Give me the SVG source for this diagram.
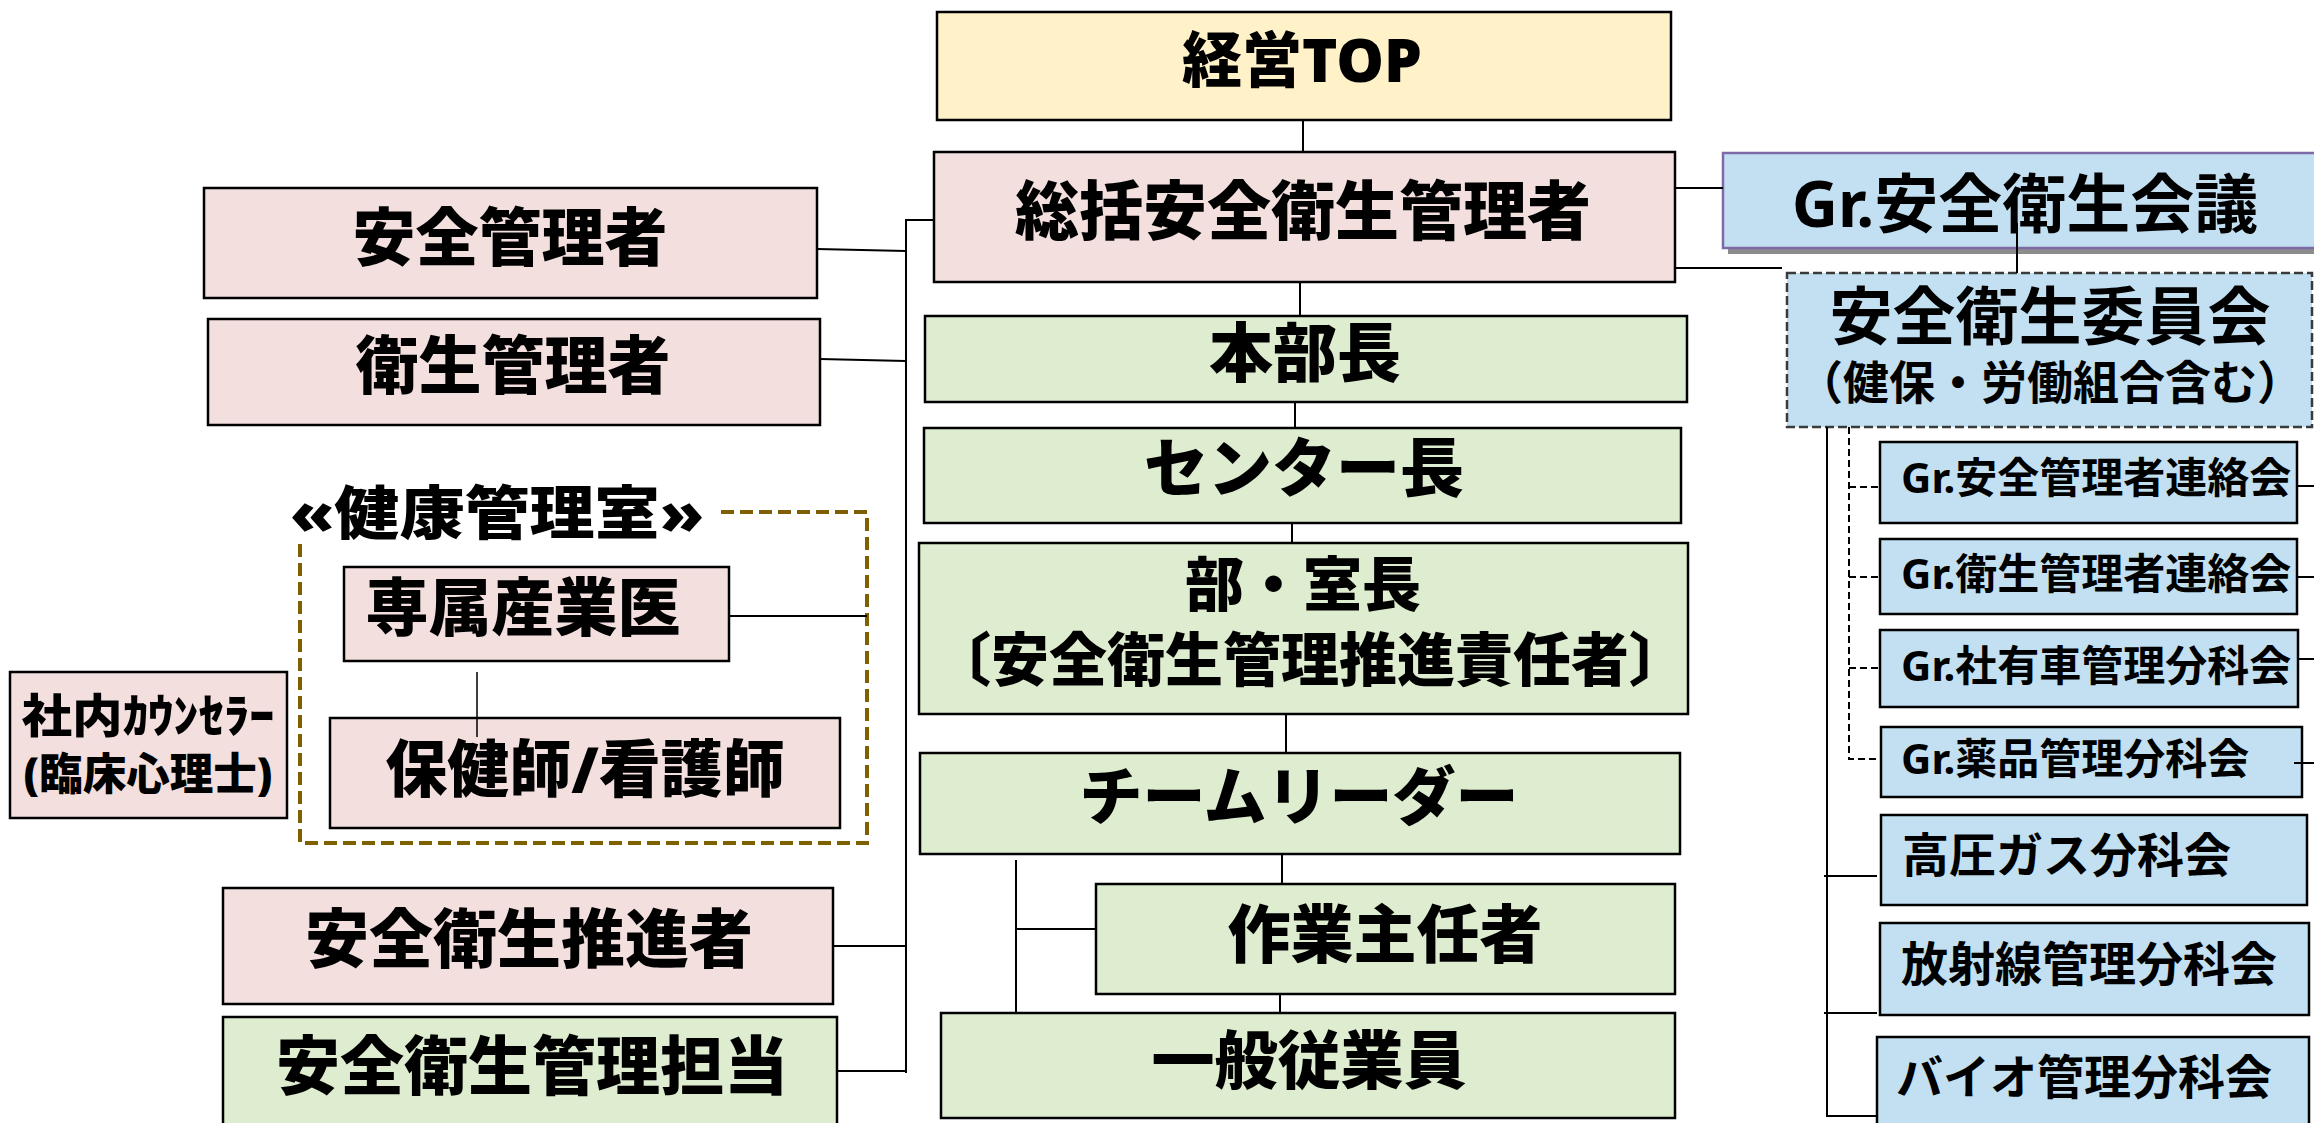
<svg xmlns="http://www.w3.org/2000/svg" width="2314" height="1123" viewBox="0 0 2314 1123">
<style>
.t{font-family:"Noto Sans","Noto Sans CJK JP",sans-serif;font-weight:700;fill:#000;dominant-baseline:central}
.h{font-weight:900}
.c{text-anchor:middle}
.s{text-anchor:start}
.pink{fill:#F2DFDE;stroke:#000;stroke-width:2.5}
.green{fill:#DEEDD0;stroke:#000;stroke-width:2.5}
.yellow{fill:#FFF2C9;stroke:#000;stroke-width:2.5}
.blue{fill:#C2E0F2;stroke:#000;stroke-width:2.5}
.ln{stroke:#000;stroke-width:2;fill:none}
.thin{stroke:#000;stroke-width:1.5;fill:none}
.dl{stroke:#000;stroke-width:2;fill:none;stroke-dasharray:7,4}
</style>
<rect width="2314" height="1123" fill="#fff"/>
<g id="nodes">
<g id="n-top"><rect class="yellow" x="937" y="12" width="734" height="108"/><text class="t h c" x="1302" y="59" font-size="60">経営TOP</text></g>
<g id="n-sokatsu"><rect class="pink" x="934" y="152" width="741" height="130"/><text class="t h c" x="1303" y="209" font-size="64">総括安全衛生管理者</text></g>
<g id="n-honbu"><rect class="green" x="925" y="316" width="762" height="86"/><text class="t h c" x="1305" y="351" font-size="64">本部長</text></g>
<g id="n-center"><rect class="green" x="924" y="428" width="757" height="95"/><text class="t h c" x="1304" y="466" font-size="64">センター長</text></g>
<g id="n-bu"><rect class="green" x="919" y="543" width="769" height="171"/><text class="t h c" x="1303" y="583" font-size="59">部・室長</text><text class="t h c" x="1310" y="658" font-size="58">〔安全衛生管理推進責任者〕</text></g>
<g id="n-team"><rect class="green" x="920" y="753" width="760" height="101"/><text class="t h c" x="1299" y="794" font-size="63">チームリーダー</text></g>
<g id="n-sagyo"><rect class="green" x="1096" y="884" width="579" height="110"/><text class="t h c" x="1385" y="932" font-size="63">作業主任者</text></g>
<g id="n-ippan"><rect class="green" x="941" y="1013" width="734" height="105"/><text class="t h c" x="1309" y="1058" font-size="63">一般従業員</text></g>
<g id="n-anzenkanri"><rect class="pink" x="204" y="188" width="613" height="110"/><text class="t h c" x="510" y="235" font-size="63">安全管理者</text></g>
<g id="n-eiseikanri"><rect class="pink" x="208" y="319" width="612" height="106"/><text class="t h c" x="513" y="363" font-size="63">衛生管理者</text></g>
<g id="n-kenko"><path d="M721,512 H867 V843 H300 V540" fill="none" stroke="#7F6000" stroke-width="4" stroke-dasharray="13,6"/><text class="t h c" x="497" y="511" font-size="58" textLength="414" lengthAdjust="spacingAndGlyphs">«健康管理室»</text></g>
<g id="n-senzoku"><rect class="pink" x="344" y="567" width="385" height="94"/><text class="t h c" x="523" y="605" font-size="63">専属産業医</text></g>
<g id="n-hokenshi"><rect class="pink" x="330" y="718" width="510" height="110"/><text class="t h c" x="585" y="768" font-size="62">保健師/看護師</text></g>
<g id="n-counselor"><rect class="pink" x="10" y="672" width="277" height="146"/><text class="t h c" x="148" y="714" font-size="46" textLength="253" lengthAdjust="spacingAndGlyphs">社内ｶｳﾝｾﾗｰ</text><text class="t h c" x="148" y="773" font-size="44" textLength="249" lengthAdjust="spacingAndGlyphs">(臨床心理士)</text></g>
<g id="n-suishin"><rect class="pink" x="223" y="888" width="610" height="116"/><text class="t h c" x="529" y="937" font-size="64">安全衛生推進者</text></g>
<g id="n-tanto"><rect class="green" x="223" y="1017" width="614" height="120"/><text class="t h c" x="532" y="1064" font-size="64">安全衛生管理担当</text></g>
<g id="n-kaigi"><rect x="1728" y="159" width="604" height="95" fill="#8C8C8C"/><rect x="1723" y="153" width="604" height="95" fill="#C2E0F2" stroke="#7E6AA6" stroke-width="2.5"/><text class="t c" x="2025" y="202" font-size="64">Gr.安全衛生会議</text></g>
<g id="n-iinkai"><rect x="1787" y="273" width="525" height="154" fill="#C2E0F2" stroke="#3A3A3A" stroke-width="2.5" stroke-dasharray="9,4"/><text class="t c" x="2050" y="314" font-size="63">安全衛生委員会</text><text class="t c" x="2050" y="381" font-size="46">（健保・労働組合含む）</text></g>
<g id="n-g-anzen"><rect class="blue" x="1880" y="442" width="417" height="81"/><text class="t s" x="1901" y="476" font-size="42">Gr.安全管理者連絡会</text></g>
<g id="n-g-eisei"><rect class="blue" x="1880" y="539" width="417" height="75"/><text class="t s" x="1901" y="572" font-size="42">Gr.衛生管理者連絡会</text></g>
<g id="n-g-shayu"><rect class="blue" x="1880" y="630" width="418" height="77"/><text class="t s" x="1901" y="664" font-size="42">Gr.社有車管理分科会</text></g>
<g id="n-g-yakuhin"><rect class="blue" x="1881" y="727" width="421" height="70"/><text class="t s" x="1901" y="757" font-size="42">Gr.薬品管理分科会</text></g>
<g id="n-koatsu"><rect class="blue" x="1881" y="815" width="426" height="90"/><text class="t s" x="1902" y="854" font-size="47">高圧ガス分科会</text></g>
<g id="n-hosha"><rect class="blue" x="1880" y="923" width="429" height="92"/><text class="t s" x="1901" y="963" font-size="47">放射線管理分科会</text></g>
<g id="n-bio"><rect class="blue" x="1877" y="1037" width="432" height="100"/><text class="t s" x="1896" y="1076" font-size="47">バイオ管理分科会</text></g>
</g>
<g id="connectors">
<path class="ln" d="M1303,120 V152 M1300,282 V316 M1295,402 V428 M1292,523 V543 M1286,714 V753 M1282,854 V884 M1280,994 V1013"/>
<path class="ln" d="M1016,860 V1013 M1016,929 H1096"/>
<path class="ln" d="M934,220 H906 V1073"/>
<path class="ln" d="M817,249 L906,251 M820,359 L906,361 M833,946 H906 M837,1071 H906"/>
<path class="ln" d="M729,616 H867"/>
<path class="thin" d="M477,672 V737"/>
<path class="ln" d="M1675,188 H1723 M1675,268 H1782 M2017,223 V273"/>
<path class="ln" d="M1827,427 V1116 H1877 M1824,876 H1877 M1824,1013 H1877"/>
<path class="dl" d="M1849,427 V759 H1880 M1849,487 H1880 M1849,577 H1880 M1849,668 H1880"/>
<path class="ln" d="M2297,486 H2314 M2297,577 H2314 M2298,659 H2314 M2294,763 H2314"/>
</g>
</svg>
